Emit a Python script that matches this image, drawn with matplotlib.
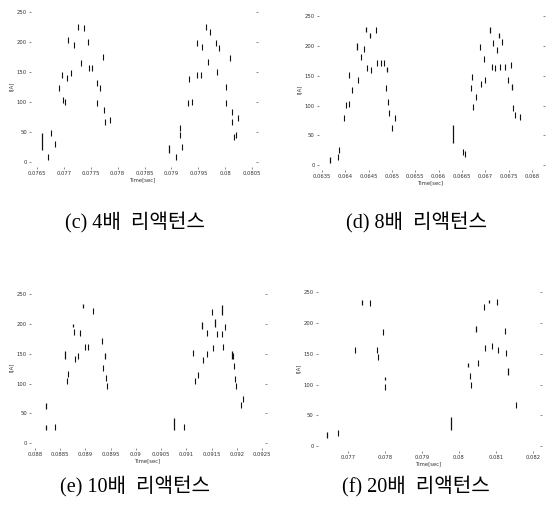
import numpy as np
import matplotlib.pyplot as plt

plt.rcParams['font.family'] = ['DejaVu Sans']

# (c) 4x reactance - sampled current points [time s, current A]
c_t = [0.07670, 0.07676, 0.07683, 0.07691, 0.07696, 0.07698, 0.07702, 0.07706,
       0.07707, 0.07713, 0.07719, 0.07726, 0.07731, 0.07737, 0.07744, 0.07746,
       0.07752, 0.07761, 0.07761, 0.07767, 0.07772, 0.07774, 0.07776, 0.07785,
       0.07909, 0.07915, 0.07915, 0.07920, 0.07930, 0.07933, 0.07939, 0.07948,
       0.07948, 0.07954, 0.07957, 0.07965, 0.07967, 0.07972, 0.07983, 0.07985,
       0.07989, 0.08002, 0.08002, 0.08009, 0.08013, 0.08013, 0.08017, 0.08020,
       0.08024]
c_i = [8, 48, 30, 123, 145, 103, 100, 140,
       203, 148, 195, 225, 165, 223, 200, 157,
       157, 132, 98, 123, 175, 87, 67, 70,
       8, 57, 45, 25, 98, 138, 100, 198,
       145, 145, 192, 225, 167, 217, 198, 150,
       190, 125, 98, 173, 83, 67, 42, 45,
       73]
c_seg_t = [0.07659, 0.07896]
c_seg_lo = [20, 15]
c_seg_hi = [48, 28]

# (d) 8x reactance
d_t = [0.06384, 0.06386, 0.06397, 0.06401, 0.06408, 0.06408, 0.06414, 0.06427,
       0.06434, 0.06440, 0.06446, 0.06455, 0.06466, 0.06468, 0.06476, 0.06483,
       0.06487, 0.06491, 0.06494, 0.06500, 0.06506,
       0.06652, 0.06656, 0.06669, 0.06671, 0.06674, 0.06680, 0.06689, 0.06691,
       0.06697, 0.06699, 0.06714, 0.06716, 0.06721, 0.06725, 0.06731, 0.06736,
       0.06742, 0.06749, 0.06755, 0.06759, 0.06764, 0.06774]
d_i = [13, 25, 79, 101, 151, 102, 126, 143,
       181, 195, 163, 159, 226, 171, 171, 171,
       129, 106, 87, 62, 79,
       22, 18, 129, 148, 97, 114, 198, 137,
       178, 143, 165, 205, 163, 193, 165, 206,
       165, 143, 168, 96, 84, 81]
d_seg_t = [0.06367, 0.06425, 0.06444, 0.06453, 0.06489, 0.06631, 0.06710,
           0.06730, 0.06757]
d_seg_lo = [3, 193, 223, 213, 156, 37, 221, 213, 126]
d_seg_hi = [13, 205, 231, 221, 164, 67, 231, 221, 137]

# (e) 10x reactance
e_t = [0.08840, 0.08863, 0.08865, 0.08877, 0.08879, 0.08885, 0.08889, 0.08899,
       0.08905, 0.08915, 0.08933, 0.08935, 0.08941, 0.08943,
       0.09095, 0.09113, 0.09117, 0.09123, 0.09133, 0.09141, 0.09141, 0.09151,
       0.09153, 0.09161, 0.09171, 0.09173, 0.09177, 0.09193, 0.09195, 0.09196,
       0.09198, 0.09208, 0.09212]
e_i = [27, 104, 116, 186, 141, 147, 185, 161,
       162, 222, 171, 127, 109, 96,
       28, 152, 104, 114, 139, 185, 149, 220,
       159, 184, 184, 162, 195, 146, 129, 108,
       96, 64, 74]
e_seg_t = [0.08822, 0.08822, 0.08859, 0.08875, 0.08895, 0.08939, 0.09076,
           0.09131, 0.09157, 0.09171, 0.09191]
e_seg_lo = [58, 22, 142, 195, 227, 142, 22, 192, 195, 215, 142]
e_seg_hi = [68, 30, 154, 200, 233, 151, 43, 204, 209, 232, 154]

# (f) 20x reactance
f_t = [0.07673, 0.07719, 0.07759, 0.07778, 0.07781, 0.07795, 0.07800,
       0.08030, 0.08032, 0.08051, 0.08068, 0.08070, 0.08089, 0.08103, 0.08105,
       0.08124, 0.08127, 0.08154]
f_i = [21, 156, 232, 156, 145, 185, 96,
       114, 99, 135, 226, 159, 162, 234, 157,
       187, 151, 67]
f_seg_t = [0.07643, 0.07738, 0.07800, 0.07978, 0.08024, 0.08046, 0.08081,
           0.08132]
f_seg_lo = [13, 230, 107, 26, 128, 185, 232, 115]
f_seg_hi = [23, 237, 112, 47, 135, 196, 237, 127]

c_ticks = [0.0765, 0.077, 0.0775, 0.078, 0.0785, 0.079, 0.0795, 0.08, 0.0805]
d_ticks = [0.0635, 0.064, 0.0645, 0.065, 0.0655, 0.066, 0.0665, 0.067, 0.0675, 0.068]
e_ticks = [0.088, 0.0885, 0.089, 0.0895, 0.09, 0.0905, 0.091, 0.0915, 0.092, 0.0925]
f_ticks = [0.077, 0.078, 0.079, 0.08, 0.081, 0.082]
y_ticks = [0, 50, 100, 150, 200, 250]

captions = ['(c) 4배  리액턴스', '(d) 8배  리액턴스', '(e) 10배  리액턴스', '(f) 20배  리액턴스']

fig = plt.figure(figsize=(5.49, 5.15), dpi=100)

panels = [
    ([0.0565, 0.6757, 0.4098, 0.3146], (0.07639, 0.08057), c_t, c_i, c_seg_t, c_seg_lo, c_seg_hi, c_ticks),
    ([0.5810, 0.6699, 0.4080, 0.3126], (0.063436, 0.068236), d_t, d_i, d_seg_t, d_seg_lo, d_seg_hi, d_ticks),
    ([0.0565, 0.1301, 0.4262, 0.3126], (0.08792, 0.09256), e_t, e_i, e_seg_t, e_seg_lo, e_seg_hi, e_ticks),
    ([0.5792, 0.1243, 0.4044, 0.3223], (0.07619, 0.08219), f_t, f_i, f_seg_t, f_seg_lo, f_seg_hi, f_ticks),
]

for pos, xl, t, i, st, slo, shi, xt in panels:
    ax = fig.add_axes(pos)
    ax.plot(t, i, linestyle='none', marker='|', markersize=4, color='#111111', mew=0.8)
    ax.vlines(st, slo, shi, color='#111111', linewidth=0.9)
    ax.set_xlim(*xl)
    ax.set_ylim(-8, 262)
    ax.set_xticks(xt)
    ax.set_xticklabels([f'{v:g}' for v in xt])
    ax.set_yticks(y_ticks)
    for s in ax.spines.values():
        s.set_visible(False)
    ax.tick_params(labelsize=3.8, length=1.5, width=0.4, pad=1.5, colors='#333333',
                   right=True)
    ax.set_xlabel('Time[sec]', fontsize=3.8, labelpad=1, color='#333333')
    ax.set_ylabel('I[A]', fontsize=3.8, labelpad=2, color='#333333')

cap_pos = [(0.245, 0.567), (0.758, 0.567), (0.245, 0.055), (0.758, 0.055)]
for (x, y), txt in zip(cap_pos, captions):
    fig.text(x, y, txt, ha='center', va='center', fontsize=14.5,
             family=['Liberation Serif', 'Noto Sans CJK KR'])

fig.savefig('out.png', dpi=100)
